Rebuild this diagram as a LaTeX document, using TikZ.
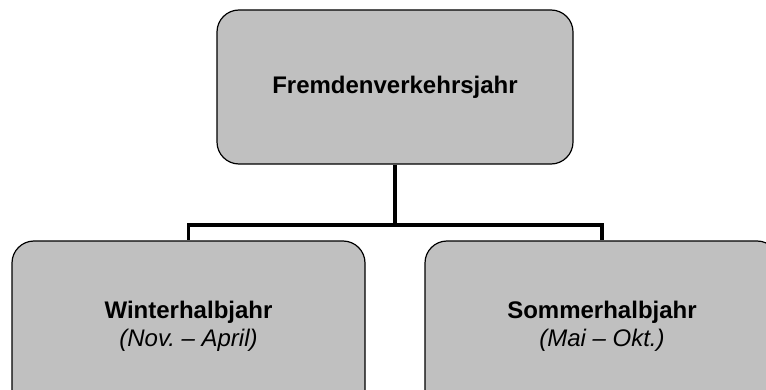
\documentclass[tikz,border=0pt]{standalone}
\usepackage{fontspec}
\setmainfont{Liberation Sans}
\definecolor{boxgray}{HTML}{C0C0C0}
\begin{document}
\begin{tikzpicture}[x=1pt,y=1pt,
  box/.style={draw=black, line width=1.2pt, fill=boxgray, rounded corners=22pt,
    minimum width=356pt, minimum height=154pt, align=center, inner sep=0pt,
    font=\fontsize{24}{28}\selectfont},
  lowbox/.style={box, minimum height=170pt},
  conn/.style={line width=3.5pt}]
\useasboundingbox (0,0) rectangle (766,389);
\clip (0,0) rectangle (766,389);
\node[box] (top) at (395,302) {\textbf{Fremdenverkehrsjahr}};
\node[lowbox, minimum width=353pt] (win) at (188.5,63) {\textbf{Winterhalbjahr}\\\textit{(Nov.\ – April)}};
\node[lowbox, minimum width=354pt] (som) at (602,63) {\textbf{Sommerhalbjahr}\\\textit{(Mai – Okt.)}};
\coordinate (j) at (395,164);
\draw[conn] (top.south) -- (j);
\draw[conn] (j) -| (win.north);
\draw[conn] (j) -| (som.north);
\end{tikzpicture}
\end{document}
